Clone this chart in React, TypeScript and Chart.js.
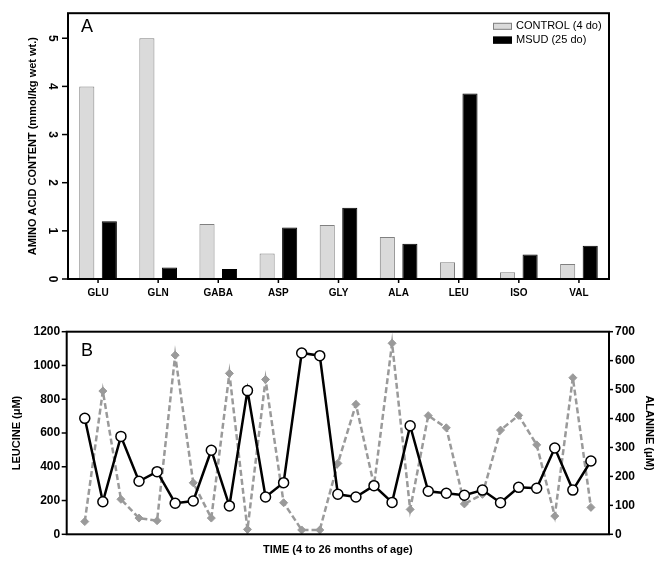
import React, { useEffect, useRef } from "react";
import { Chart, registerables } from "chart.js";

Chart.register(...registerables);

const FONT = '"Liberation Sans", Arial, Helvetica, sans-serif';

// Panel A data
const aminoAcids = ["GLU", "GLN", "GABA", "ASP", "GLY", "ALA", "LEU", "ISO", "VAL"];
const controlValues = [4.0, 5.0, 1.14, 0.53, 1.12, 0.87, 0.35, 0.14, 0.31];
const msudValues = [1.2, 0.24, 0.21, 1.07, 1.48, 0.73, 3.85, 0.51, 0.69];
const controlLabel = "CONTROL (4 do)";
const msudLabel = "MSUD (25 do)";

// Panel B data
const visitIndex = [1, 2, 3, 4, 5, 6, 7, 8, 9, 10, 11, 12, 13, 14, 15, 16, 17, 18, 19, 20, 21, 22, 23, 24, 25, 26, 27, 28, 29];
const leucineValues = [687, 193, 580, 314, 371, 184, 197, 498, 168, 851, 221, 306, 1074, 1058, 237, 221, 288, 189, 643, 255, 243, 231, 262, 187, 278, 273, 511, 262, 434];
const alanineValues = [44, 495, 121, 56, 47, 619, 178, 56, 556, 17, 535, 109, 15, 15, 245, 449, 169, 660, 86, 410, 368, 105, 138, 360, 411, 309, 63, 541, 93];

const makeFramePlugin = (tickLengths: Record<string, number>) => ({
  id: "frameAndTicks",
  afterDraw(chart: any) {
    const { ctx, chartArea: a } = chart;
    ctx.save();
    ctx.strokeStyle = "#000";
    ctx.lineWidth = 2;
    ctx.strokeRect(a.left, a.top, a.right - a.left, a.bottom - a.top);
    ctx.lineWidth = 1.5;
    Object.keys(tickLengths).forEach((id) => {
      const s = chart.scales[id];
      const len = tickLengths[id];
      if (!s) return;
      for (let i = 0; i < s.ticks.length; i++) {
        const p = s.getPixelForTick(i);
        ctx.beginPath();
        if (s.position === "left") {
          ctx.moveTo(a.left, p);
          ctx.lineTo(a.left - len, p);
        } else if (s.position === "right") {
          ctx.moveTo(a.right, p);
          ctx.lineTo(a.right + len, p);
        } else {
          ctx.moveTo(p, a.bottom);
          ctx.lineTo(p, a.bottom + len);
        }
        ctx.stroke();
      }
    });
    ctx.restore();
  },
});

const makeLetterPlugin = (letter: string, x: number, y: number) => ({
  id: "letter" + letter,
  afterDraw(chart: any) {
    const { ctx } = chart;
    ctx.save();
    ctx.fillStyle = "#000";
    ctx.font = `18px ${FONT}`;
    ctx.textAlign = "left";
    ctx.textBaseline = "middle";
    ctx.fillText(letter, x, y);
    ctx.restore();
  },
});

const legendPlugin = {
  id: "insideLegend",
  afterDraw(chart: any) {
    const { ctx } = chart;
    ctx.save();
    chart.data.datasets.forEach((ds: any, i: number) => {
      const y = 26.3 + i * 13.8;
      const bx = 493;
      ctx.fillStyle = ds.backgroundColor;
      ctx.fillRect(bx, y - 3.5, 19, 7);
      ctx.strokeStyle = ds.borderColor;
      ctx.lineWidth = 1;
      ctx.strokeRect(bx + 0.5, y - 3, 18, 6);
      ctx.fillStyle = "#000";
      ctx.font = `11px ${FONT}`;
      ctx.textAlign = "left";
      ctx.textBaseline = "middle";
      ctx.fillText(ds.label, bx + 23, y);
    });
    ctx.restore();
  },
};

const plainNumber = (v: any) => String(v);

export default function App() {
  const refA = useRef<HTMLCanvasElement>(null);
  const refB = useRef<HTMLCanvasElement>(null);

  useEffect(() => {
    Chart.defaults.font.family = FONT;
    const chartA = new Chart(refA.current as HTMLCanvasElement, {
      type: "bar",
      data: {
        labels: aminoAcids,
        datasets: [
          {
            label: controlLabel,
            data: controlValues,
            backgroundColor: "#dadada",
            borderColor: "#808080",
            borderWidth: 1,
            categoryPercentage: 0.75,
            barPercentage: 0.67,
          },
          {
            label: msudLabel,
            data: msudValues,
            backgroundColor: "#000",
            borderColor: "#000",
            borderWidth: 1,
            categoryPercentage: 0.75,
            barPercentage: 0.67,
          },
        ],
      },
      options: {
        responsive: false,
        animation: false,
        devicePixelRatio: 1,
        layout: { padding: { top: 9, right: 52, left: 0, bottom: 0 } },
        plugins: { legend: { display: false }, tooltip: { enabled: false } },
        scales: {
          x: {
            grid: { display: false, drawTicks: true, tickLength: 4 },
            border: { display: false },
            ticks: { color: "#000", font: { family: FONT, size: 10, weight: "bold" }, padding: 4, maxRotation: 0, autoSkip: false },
            afterFit: (s: any) => { s.height = 26; },
          },
          y: {
            min: 0,
            max: 5.52,
            grid: { display: false, drawTicks: true, tickLength: 6 },
            border: { display: false },
            ticks: {
              stepSize: 1,
              includeBounds: false,
              minRotation: -90,
              crossAlign: "center",
              padding: 6,
              color: "#000",
              font: { family: FONT, size: 12, weight: "bold" },
              callback: plainNumber,
            },
            title: {
              display: true,
              text: "AMINO ACID CONTENT (mmol/kg wet wt.)",
              color: "#000",
              font: { family: FONT, size: 11, weight: "bold" },
              padding: { top: 26.4, bottom: 0 },
            },
            afterFit: (s: any) => { s.width = 68; },
          },
        },
      } as any,
      plugins: [makeFramePlugin({ x: 4, y: 6 }), legendPlugin, makeLetterPlugin("A", 81, 27)],
    });

    const chartB = new Chart(refB.current as HTMLCanvasElement, {
      type: "line",
      data: {
        datasets: [
          {
            label: "LEUCINE",
            data: leucineValues.map((v, i) => ({ x: visitIndex[i], y: v })),
            yAxisID: "y",
            borderColor: "#000",
            borderWidth: 2.5,
            pointRadius: 5,
            pointBackgroundColor: "#fff",
            pointBorderColor: "#000",
            pointBorderWidth: 1.5,
            tension: 0,
          },
          {
            label: "ALANINE",
            data: alanineValues.map((v, i) => ({ x: visitIndex[i], y: v })),
            yAxisID: "y1",
            borderColor: "#9a9a9a",
            borderWidth: 2.5,
            borderDash: [6, 3],
            pointStyle: "rectRot",
            pointRadius: 4,
            pointBackgroundColor: "#9a9a9a",
            pointBorderColor: "#9a9a9a",
            pointBorderWidth: 1,
            tension: 0,
          },
        ],
      },
      options: {
        responsive: false,
        animation: false,
        devicePixelRatio: 1,
        layout: { padding: { top: 26.7, right: 0, left: 0, bottom: 0 } },
        plugins: { legend: { display: false }, tooltip: { enabled: false } },
        scales: {
          x: {
            type: "linear",
            min: 0,
            max: 30,
            grid: { display: false },
            border: { display: false },
            ticks: { display: false },
            title: {
              display: true,
              text: "TIME (4 to 26 months of age)",
              color: "#000",
              font: { family: FONT, size: 11, weight: "bold" },
              padding: { top: 0, bottom: 7.4 },
            },
            afterFit: (s: any) => { s.height = 29.7; },
          },
          y: {
            position: "left",
            min: 0,
            max: 1200,
            grid: { display: false, drawTicks: true, tickLength: 5 },
            border: { display: false },
            ticks: { stepSize: 200, padding: 1.5, color: "#000", font: { family: FONT, size: 12, weight: "bold" }, callback: plainNumber },
            title: {
              display: true,
              text: "LEUCINE (μM)",
              color: "#000",
              font: { family: FONT, size: 11, weight: "bold" },
              padding: { top: 10.4, bottom: 0 },
            },
            afterFit: (s: any) => { s.width = 66.7; },
          },
          y1: {
            position: "right",
            min: 0,
            max: 700,
            grid: { display: false, drawTicks: true, tickLength: 4 },
            border: { display: false },
            ticks: { stepSize: 100, padding: 2, color: "#000", font: { family: FONT, size: 12, weight: "bold" }, callback: plainNumber },
            title: {
              display: true,
              text: "ALANINE (μM)",
              color: "#000",
              font: { family: FONT, size: 11, weight: "bold" },
              padding: { top: 5.4, bottom: 0 },
            },
            afterFit: (s: any) => { s.width = 52; },
          },
        },
      } as any,
      plugins: [makeFramePlugin({ y: 5, y1: 4 }), makeLetterPlugin("B", 81, 46)],
    });

    return () => {
      chartA.destroy();
      chartB.destroy();
    };
  }, []);

  return (
    <div style={{ position: "fixed", left: 0, top: 0, width: 661, height: 564, background: "#fff" }}>
      <canvas ref={refA} width={661} height={305} style={{ position: "absolute", left: 0, top: 0, width: 661, height: 305 }} />
      <canvas ref={refB} width={661} height={259} style={{ position: "absolute", left: 0, top: 305, width: 661, height: 259 }} />
    </div>
  );
}
